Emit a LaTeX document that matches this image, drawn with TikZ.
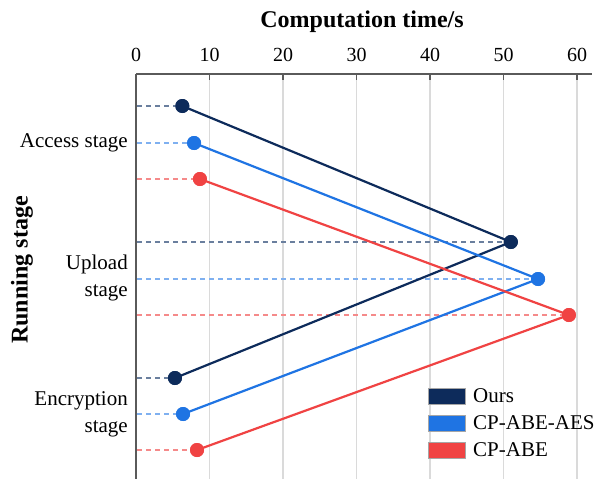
\documentclass[tikz,border=0pt]{standalone}
\usepackage{fontspec}
\setmainfont{Liberation Serif}
\definecolor{ours}{HTML}{0D2B5B}
\definecolor{aes}{HTML}{1F74E3}
\definecolor{abe}{HTML}{F04343}
\definecolor{oursdash}{HTML}{6A7F9E}
\definecolor{aesdash}{HTML}{7FB0F0}
\definecolor{abedash}{HTML}{F58A8A}
\definecolor{gridc}{HTML}{DADADA}
\definecolor{axisc}{HTML}{5A5A5A}
\begin{document}
\begin{tikzpicture}[x=1pt,y=-1pt,
  pt/.style={circle,inner sep=0pt,minimum size=14pt,fill=#1},
  series/.style={line width=2.2pt,draw=#1},
  guide/.style={line width=1.4pt,draw=#1,dash pattern=on 5pt off 4pt},
  lab/.style={font=\fontsize{21}{27}\selectfont,align=right,anchor=east,inner sep=0pt},
  ticklab/.style={font=\fontsize{20}{24}\selectfont},
  titlelab/.style={font=\bfseries\fontsize{24}{28}\selectfont},
  swatch/.style={draw=gray!70,line width=0.6pt,fill=#1,minimum width=37pt,minimum height=16pt,inner sep=0pt},
  leglab/.style={font=\fontsize{21}{25}\selectfont,anchor=west,inner sep=0pt},
]
\useasboundingbox (0,0) rectangle (600,479);
\fill[white] (0,0) rectangle (600,479);

% vertical grid and axes
\foreach \v in {10,20,...,60}
  \draw[gridc,line width=1.5pt] ({136+7.35*\v},74) -- ({136+7.35*\v},479);
\draw[axisc,line width=1.5pt] (136,74) -- (592,74);
\draw[axisc,line width=1.5pt] (136,74) -- (136,479);
\foreach \v in {10,20,...,60}
  \draw[axisc,line width=1.2pt] ({136+7.35*\v},74) -- ({136+7.35*\v},80);
\foreach \y in {143,279,414}
  \draw[axisc,line width=1.2pt] (136,\y) -- (141,\y);
\foreach \v in {0,10,...,60}
  \node[ticklab] (t\v) at ({136+7.35*\v},55) {\v};

% titles
\node[titlelab] (xtitle) at (362,22) {Computation time/s};
\node[titlelab,rotate=90] (ytitle) at (22,270) {Running stage};

% stage labels
\node[lab] (access) at (128,143) {Access stage};
\node[lab] (upload) at (128,278) {Upload\\stage};
\node[lab] (encrypt) at (128,414) {Encryption\\stage};

% data points
\node[pt=ours] (o1) at ({136+7.35*6.3},106) {};
\node[pt=ours] (o2) at ({136+7.35*51.0},242) {};
\node[pt=ours] (o3) at ({136+7.35*5.3},378) {};
\node[pt=aes] (a1) at ({136+7.35*7.9},143) {};
\node[pt=aes] (a2) at ({136+7.35*54.7},279) {};
\node[pt=aes] (a3) at ({136+7.35*6.4},414) {};
\node[pt=abe] (c1) at ({136+7.35*8.7},179) {};
\node[pt=abe] (c2) at ({136+7.35*58.9},315) {};
\node[pt=abe] (c3) at ({136+7.35*8.3},450) {};

% guide starts on the left axis
\coordinate (o1s) at (137,106);
\coordinate (o2s) at (137,242);
\coordinate (o3s) at (137,378);
\coordinate (a1s) at (137,143);
\coordinate (a2s) at (137,279);
\coordinate (a3s) at (137,414);
\coordinate (c1s) at (137,179);
\coordinate (c2s) at (137,315);
\coordinate (c3s) at (137,450);

\draw[guide=oursdash] (o1s) -- (o1.center);
\draw[guide=oursdash] (o2s) -- (o2.center);
\draw[guide=oursdash] (o3s) -- (o3.center);
\draw[guide=aesdash] (a1s) -- (a1.center);
\draw[guide=aesdash] (a2s) -- (a2.center);
\draw[guide=aesdash] (a3s) -- (a3.center);
\draw[guide=abedash] (c1s) -- (c1.center);
\draw[guide=abedash] (c2s) -- (c2.center);
\draw[guide=abedash] (c3s) -- (c3.center);

\draw[series=ours] (o1.center) -- (o2.center) -- (o3.center);
\draw[series=aes] (a1.center) -- (a2.center) -- (a3.center);
\draw[series=abe] (c1.center) -- (c2.center) -- (c3.center);

% markers on top of the lines
\foreach \n/\c in {o1/ours,o2/ours,o3/ours,a1/aes,a2/aes,a3/aes,c1/abe,c2/abe,c3/abe}
  \fill[\c] (\n.center) circle (7pt);

% legend
\node[swatch=ours] (sw1) at (446.5,396) {};
\node[swatch=aes] (sw2) at (446.5,423) {};
\node[swatch=abe] (sw3) at (446.5,450) {};
\node[leglab] (l1) at (473,396) {Ours};
\node[leglab] (l2) at (473,423) {CP-ABE-AES};
\node[leglab] (l3) at (473,450) {CP-ABE};
\end{tikzpicture}
\end{document}
